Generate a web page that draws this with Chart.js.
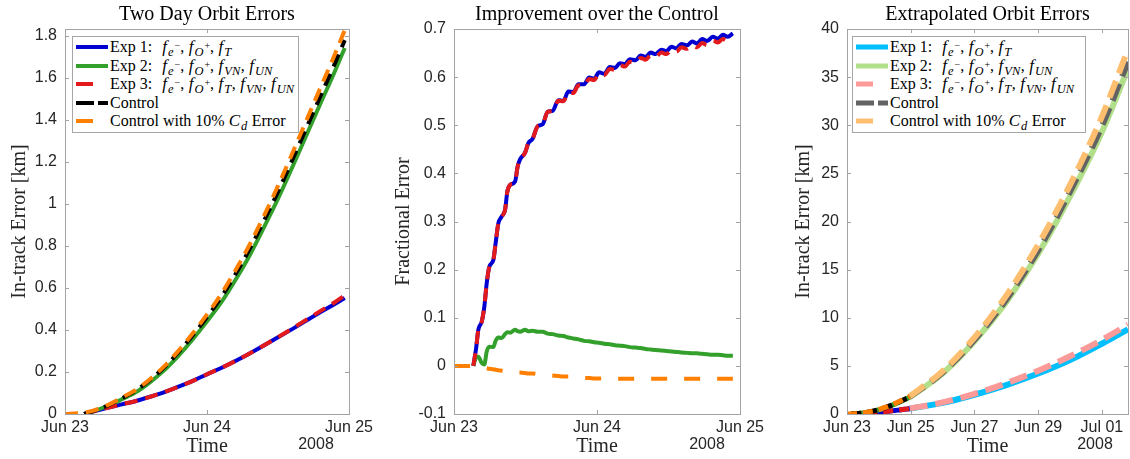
<!DOCTYPE html>
<html>
<head>
<meta charset="utf-8">
<script src="https://cdn.jsdelivr.net/npm/chart.js@4"></script>
<style>
  html, body { margin: 0; padding: 0; background: #fff; overflow: hidden; }
  body { position: relative; width: 1130px; height: 459px; }
  canvas { position: absolute; top: 0; }
  .legend { position: absolute; background: #fff; border: 1px solid #a6a6a6; padding: 1px 0;
            font-family: "Liberation Serif", "Times New Roman", serif; font-size: 16px; color: #000; }
  .legend .row { height: 18.5px; display: flex; align-items: center; white-space: nowrap; }
  .legend svg { margin: 0 2px 0 3px; flex: none; }
  .legend i.f { font-size: 17px; margin-right: 1px; }
  .legend sub { font-size: 12.5px; line-height: 0; vertical-align: baseline; position: relative; top: 4px; }
  .legend sub i { margin-right: 0.5px; }
  .legend sub sup { font-size: 10px; line-height: 0; vertical-align: baseline; position: relative; top: -7px; margin-left: 0.5px; }
  .legend .gap { display: inline-block; width: 10px; }
  .legend .sp { display: inline-block; width: 4.5px; }
</style>
</head>
<body>
<canvas id="orbit" width="380" height="459" style="left:0"></canvas>
<canvas id="improve" width="400" height="459" style="left:380px"></canvas>
<canvas id="extrap" width="370" height="459" style="left:760px"></canvas>
<div id="legendOrbit" class="legend" style="left:72px;top:36px;width:225px"></div>
<div id="legendExtrap" class="legend" style="left:852px;top:36px;width:232px"></div>
<script>
// time is in days after 2008-06-23 00:00
const dayTicks = ['Jun 23', 'Jun 24', 'Jun 25'];
const weekTicks = ['Jun 23', 'Jun 25', 'Jun 27', 'Jun 29', 'Jul 01'];
const yearLabel = '2008';

const seriesNames = ['Exp 1', 'Exp 2', 'Exp 3', 'Control', 'Control with 10% Cd Error'];

const fe = '<i class="f">f</i><sub><i>e</i><sup>\u2212</sup></sub>';
const fO = '<i class="f">f</i><sub><i>O</i><sup>+</sup></sub>';
const fT = '<i class="f">f</i><sub><i>T</i></sub>';
const fVN = '<i class="f">f</i><sub><i>VN</i></sub>';
const fUN = '<i class="f">f</i><sub><i>UN</i></sub>';
const gap = '<span class="gap"></span>';
const sep = ',<span class="sp"></span>';
const legendLabels = [
  `Exp 1:${gap}${[fe, fO, fT].join(sep)}`,
  `Exp 2:${gap}${[fe, fO, fVN, fUN].join(sep)}`,
  `Exp 3:${gap}${[fe, fO, fT, fVN, fUN].join(sep)}`,
  'Control',
  'Control with 10% <i class="f">C</i><sub><i>d</i></sub> Error'
];

// two day in-track errors [km]
const days = [0, 0.1, 0.135, 0.2, 0.3, 0.4, 0.5, 0.6, 0.7, 0.8, 0.9, 1.0, 1.1, 1.2, 1.3, 1.4, 1.5, 1.6, 1.7, 1.8, 1.9, 1.97];
const exp1Err = [null, null, 0, 0.013, 0.029, 0.046, 0.062, 0.082, 0.104, 0.130, 0.158, 0.189, 0.219, 0.252, 0.288, 0.326, 0.365, 0.404, 0.445, 0.485, 0.524, 0.552];
const exp2Err = [null, null, 0, 0.014, 0.038, 0.070, 0.104, 0.152, 0.209, 0.278, 0.356, 0.441, 0.531, 0.638, 0.755, 0.887, 1.025, 1.174, 1.327, 1.480, 1.631, 1.743];
const exp3Err = [null, null, 0, 0.013, 0.029, 0.046, 0.062, 0.082, 0.104, 0.130, 0.158, 0.189, 0.219, 0.252, 0.288, 0.326, 0.366, 0.407, 0.449, 0.491, 0.532, 0.565];
const controlErr = [null, null, 0, 0.014, 0.040, 0.075, 0.112, 0.163, 0.223, 0.295, 0.375, 0.462, 0.556, 0.665, 0.785, 0.918, 1.058, 1.208, 1.362, 1.515, 1.668, 1.780];
const cdErr = [0, 0.004, 0.007, 0.016, 0.042, 0.078, 0.115, 0.167, 0.228, 0.302, 0.384, 0.474, 0.571, 0.683, 0.806, 0.942, 1.086, 1.240, 1.398, 1.555, 1.712, 1.827];

// fractional improvement over the control
const fracDays = [0, 0.07, 0.135, 0.154, 0.170, 0.194, 0.212, 0.229, 0.247, 0.275, 0.291, 0.310, 0.333, 0.357, 0.373, 0.392, 0.427, 0.445, 0.462, 0.497, 0.52,
  0.55, 0.585, 0.62, 0.655, 0.69, 0.73, 0.765, 0.80, 0.835, 0.87,
  0.91, 0.945, 0.98, 1.015, 1.05, 1.09, 1.125, 1.16, 1.195, 1.23,
  1.27, 1.305, 1.34, 1.375, 1.41, 1.45, 1.485, 1.52, 1.555, 1.59,
  1.63, 1.665, 1.70, 1.735, 1.77, 1.81, 1.845, 1.88, 1.915, 1.95];
const exp1Frac = [null, null, 0.0, 0.035, 0.075, 0.092, 0.123, 0.172, 0.206, 0.220, 0.255, 0.296, 0.310, 0.324, 0.362, 0.376, 0.383, 0.414, 0.429, 0.443, 0.463,
  0.472, 0.498, 0.502, 0.528, 0.530, 0.552, 0.551, 0.570, 0.569, 0.585,
  0.585, 0.599, 0.597, 0.610, 0.607, 0.621, 0.619, 0.629, 0.627, 0.637,
  0.635, 0.645, 0.642, 0.651, 0.648, 0.657, 0.654, 0.663, 0.660, 0.669,
  0.666, 0.674, 0.670, 0.679, 0.675, 0.684, 0.680, 0.688, 0.684, 0.691];
const exp2Frac = [null, null, 0.000, 0.017, 0.019, 0.006, 0.003, 0.030, 0.040, 0.039, 0.052, 0.059, 0.058, 0.066, 0.070, 0.069, 0.075, 0.072, 0.071, 0.075, 0.072,
  0.073, 0.071, 0.071, 0.067, 0.066, 0.063, 0.062, 0.059, 0.057, 0.055,
  0.052, 0.051, 0.049, 0.048, 0.046, 0.045, 0.043, 0.042, 0.041, 0.039,
  0.038, 0.037, 0.035, 0.034, 0.033, 0.032, 0.031, 0.030, 0.029, 0.028,
  0.027, 0.026, 0.026, 0.025, 0.024, 0.023, 0.023, 0.022, 0.021, 0.021];
const exp3Frac = [null, null, 0.0, 0.035, 0.075, 0.092, 0.123, 0.172, 0.206, 0.220, 0.255, 0.296, 0.310, 0.324, 0.362, 0.376, 0.383, 0.414, 0.429, 0.443, 0.463,
  0.472, 0.498, 0.502, 0.528, 0.530, 0.551, 0.550, 0.568, 0.567, 0.583,
  0.582, 0.596, 0.594, 0.607, 0.604, 0.617, 0.615, 0.625, 0.622, 0.632,
  0.630, 0.640, 0.636, 0.645, 0.642, 0.651, 0.648, 0.656, 0.653, 0.662,
  0.659, 0.666, 0.662, 0.671, 0.667, 0.676, 0.672, 0.679, 0.675, 0.680];
const cdFrac = [0, 0, 0.000, -0.001, -0.002, -0.003, -0.004, -0.005, -0.006, -0.007, -0.008, -0.009, -0.010, -0.011, -0.011, -0.012, -0.013, -0.014, -0.014, -0.015, -0.016,
  -0.016, -0.017, -0.018, -0.019, -0.020, -0.021, -0.022, -0.022, -0.023, -0.024,
  -0.025, -0.025, -0.026, -0.026, -0.026, -0.027, -0.027, -0.027, -0.027, -0.027,
  -0.027, -0.027, -0.027, -0.027, -0.027, -0.027, -0.027, -0.027, -0.027, -0.027,
  -0.027, -0.027, -0.027, -0.027, -0.027, -0.027, -0.027, -0.027, -0.027, -0.027];

// extrapolated in-track errors [km], continuing from the end of the two day run
const extDays = [1.97, 3, 4, 5, 6, 7, 8, 8.82];
const extExp1 = [0.552, 1.15, 2.0, 3.0, 4.2, 5.6, 7.3, 8.8];
const extExp2 = [1.743, 4.2, 7.55, 11.65, 16.65, 22.6, 29.3, 35.9];
const extExp3 = [0.565, 1.2, 2.1, 3.2, 4.5, 6.0, 7.7, 9.3];
const extControl = [1.78, 4.3, 7.7, 11.9, 17.0, 23.1, 29.9, 36.6];
const extCd = [1.827, 4.45, 7.95, 12.3, 17.6, 23.8, 30.9, 37.9];

const dark = ['#0000d0', '#33a02c', '#e31a1c', '#000000', '#ff7f00'];
const light = ['#00bfff', '#b2df8a', '#fb9a99', '#636363', '#fdbf6f'];

const tickFont = { family: '"Liberation Sans", Arial, sans-serif', size: 16 };
const serifFont = { family: '"Liberation Serif", "Times New Roman", serif', size: 20, weight: 'normal' };
const tickColor = '#262626';

function series(label, xs, ys, color, width, dash, extra) {
  return Object.assign({
    label,
    data: xs.map((x, i) => ({ x, y: ys[i] })),
    borderColor: color,
    backgroundColor: color,
    borderWidth: width,
    borderDash: dash,
    pointRadius: 0,
    cubicInterpolationMode: 'monotone',
    fill: false,
    clip: 0
  }, extra || {});
}

// later datasets are drawn on top, as in the original plot order
function stackOrder(list) {
  list.forEach((d, i) => { d.order = list.length - i; });
  return list;
}

const axesBox = {
  id: 'axesBox',
  afterDatasetsDraw(chart) {
    const { ctx, chartArea: a, scales: { x, y } } = chart;
    ctx.save();
    ctx.strokeStyle = '#a3a3a3';
    ctx.lineWidth = 1;
    ctx.beginPath();
    x.ticks.forEach(t => {
      const px = Math.round(x.getPixelForValue(t.value)) + 0.5;
      ctx.moveTo(px, a.bottom); ctx.lineTo(px, a.bottom - 4);
      ctx.moveTo(px, a.top); ctx.lineTo(px, a.top + 4);
    });
    y.ticks.forEach(t => {
      const py = Math.round(y.getPixelForValue(t.value)) + 0.5;
      ctx.moveTo(a.left, py); ctx.lineTo(a.left + 4, py);
      ctx.moveTo(a.right, py); ctx.lineTo(a.right - 4, py);
    });
    ctx.stroke();
    ctx.strokeRect(Math.round(a.left) + 0.5, Math.round(a.top) + 0.5, Math.round(a.width), Math.round(a.height));
    ctx.fillStyle = tickColor;
    ctx.font = '16px "Liberation Sans", Arial, sans-serif';
    ctx.textAlign = 'center';
    ctx.textBaseline = 'middle';
    ctx.fillText(yearLabel, a.right - 33, a.bottom + 31);
    ctx.restore();
  }
};

function panel(id, cfg) {
  return new Chart(document.getElementById(id), {
    type: 'line',
    data: { datasets: cfg.datasets },
    plugins: [axesBox],
    options: {
      responsive: false,
      animation: false,
      events: [],
      layout: { padding: { left: 0, right: cfg.padRight, top: 0, bottom: 0 } },
      plugins: {
        legend: { display: false },
        tooltip: { enabled: false },
        title: {
          display: true, text: cfg.title, color: '#000', font: serifFont,
          fullSize: false, padding: { top: 3, bottom: 2 }
        }
      },
      scales: {
        x: {
          type: 'linear', min: 0, max: cfg.xMax,
          grid: { display: false, drawTicks: false }, border: { display: false },
          ticks: {
            stepSize: cfg.xStep, autoSkip: false, maxRotation: 0, includeBounds: false,
            font: tickFont, color: tickColor, padding: 4,
            callback: v => cfg.xLabels[Math.round(v / cfg.xStep)]
          },
          title: { display: true, text: 'Time', color: '#262626', font: serifFont, padding: 0 },
          afterFit: s => { s.height = 45; }
        },
        y: {
          type: 'linear', min: cfg.yMin, max: cfg.yMax,
          grid: { display: false, drawTicks: false }, border: { display: false },
          ticks: {
            stepSize: cfg.yStep, includeBounds: false, font: tickFont, color: tickColor, padding: 8,
            callback: v => String(+v.toFixed(2))
          },
          title: { display: true, text: cfg.yTitle, color: '#262626', font: serifFont, padding: { top: cfg.yTitlePad, bottom: 0 } },
          afterFit: s => { s.width = cfg.yWidth; }
        }
      }
    }
  });
}

function buildLegend(el, chart) {
  chart.data.datasets.filter(d => d.legendIndex !== undefined).forEach(d => {
    const row = document.createElement('div');
    row.className = 'row';
    const dash = d.legendDash ? ` stroke-dasharray="${d.legendDash.join(' ')}"` : '';
    row.innerHTML = `<svg width="32" height="8"><line x1="0" y1="4" x2="32" y2="4" stroke="${d.borderColor}" stroke-width="${d.legendWidth}"${dash}/></svg><span>${legendLabels[d.legendIndex]}</span>`;
    el.appendChild(row);
  });
}

const errSeries = [exp1Err, exp2Err, exp3Err, controlErr, cdErr];
const fracSeries = [exp1Frac, exp2Frac, exp3Frac, null, cdFrac];
const extSeries = [extExp1, extExp2, extExp3, extControl, extCd];
const dashed = [false, false, true, true, true];

const orbitChart = panel('orbit', {
  title: 'Two Day Orbit Errors', yTitle: 'In-track Error [km]',
  xMax: 2, xStep: 1, xLabels: dayTicks,
  yMin: 0, yMax: 1.833, yStep: 0.2,
  yWidth: 65, yTitlePad: 8, padRight: 31,
  datasets: stackOrder(errSeries.map((ys, i) =>
    series(seriesNames[i], days, ys, dark[i], 4, dashed[i] ? [13, 8] : [],
      { legendIndex: i, legendWidth: 4, legendDash: dashed[i] ? (i === 3 ? [18, 4] : [17, 20]) : null })))
});

const improveChart = panel('improve', {
  title: 'Improvement over the Control', yTitle: 'Fractional Error',
  xMax: 2, xStep: 1, xLabels: dayTicks,
  yMin: -0.1, yMax: 0.7, yStep: 0.1,
  yWidth: 74, yTitlePad: 12, padRight: 40,
  datasets: stackOrder(fracSeries.map((ys, i) => ys && series(seriesNames[i], fracDays, ys, dark[i], 4,
    i === 4 ? [16, 17] : (dashed[i] ? [13, 9] : []))).filter(Boolean))
});

const extrapChart = panel('extrap', {
  title: 'Extrapolated Orbit Errors', yTitle: 'In-track Error [km]',
  xMax: 8.82, xStep: 2, xLabels: weekTicks,
  yMin: 0, yMax: 40, yStep: 5,
  yWidth: 87, yTitlePad: 32, padRight: 2,
  datasets: stackOrder([
    ...extSeries.map((ys, i) => series(seriesNames[i], extDays, ys, light[i], 6, dashed[i] ? [18, 8] : [],
      { legendIndex: i, legendWidth: 5, legendDash: dashed[i] ? (i === 3 ? [18, 4] : [17, 20]) : null })),
    ...errSeries.map((ys, i) => series(seriesNames[i], days, ys, dark[i], 5, dashed[i] ? [10, 6] : []))
  ])
});

buildLegend(document.getElementById('legendOrbit'), orbitChart);
buildLegend(document.getElementById('legendExtrap'), extrapChart);
</script>
</body>
</html>
